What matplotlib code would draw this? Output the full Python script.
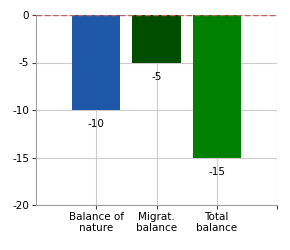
import matplotlib
matplotlib.use("Agg")
import matplotlib.pyplot as plt

categories = ["Balance of\nnature", "Migrat.\nbalance", "Total\nbalance"]
values = [-10, -5, -15]
colors = ["#1f58a8", "#004d00", "#008000"]
yticks = [0, -5, -10, -15, -20]

fig = plt.figure(figsize=(2.9, 2.5), dpi=100)
ax = fig.add_axes([36/290, 1-205/250, (277-36)/290, (205-15)/250])

x = list(range(len(categories)))
ax.bar(x, values, width=0.8, color=colors, zorder=2)
for xi, v in zip(x, values):
    ax.text(xi, v - 0.95, f"{v}", ha="center", va="top", fontsize=7.5, color="#000000", zorder=3)

ax.axhline(0, color="#c06060", linestyle=(0, (4, 2)), linewidth=1, zorder=3)

ax.set_xlim(-1, 3)
ax.set_ylim(-20, 0)
ax.set_yticks(yticks)
ax.set_yticklabels([str(t) for t in yticks], fontsize=7.5)
ax.set_xticks([0, 1, 2, 3])
ax.set_xticklabels(categories + [""], fontsize=7.5, linespacing=1.1)
ax.grid(True, color="#cccccc", linewidth=0.8, zorder=0)
ax.set_axisbelow(True)
for s in ["top", "right"]:
    ax.spines[s].set_visible(False)
for s in ["left", "bottom"]:
    ax.spines[s].set_color("#a0a0a0")
ax.tick_params(axis="both", colors="#000000", length=3, width=0.8, pad=2)
ax.tick_params(axis="both", color="#404040")

fig.savefig("out.png", dpi=100)
